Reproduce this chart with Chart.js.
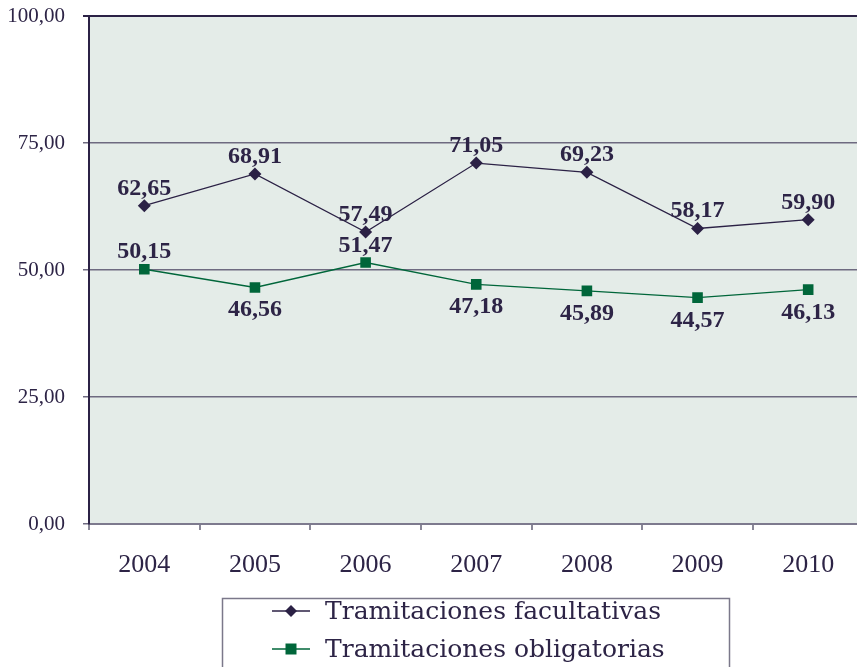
<!DOCTYPE html>
<html>
<head>
<meta charset="utf-8">
<script src="https://cdn.jsdelivr.net/npm/chart.js@4/dist/chart.umd.min.js"></script>
<style>
  html, body { margin: 0; padding: 0; background: #fff; overflow: hidden; }
  /* plot runs a few pixels past the right edge of the page */
  #wrap { width: 857px; height: 667px; overflow: hidden; }
  canvas { display: block; }
</style>
</head>
<body>
<div id="wrap"><canvas id="tramChart" width="871" height="667"></canvas></div>
<script>
// Series
const years = ['2004', '2005', '2006', '2007', '2008', '2009', '2010'];
const facultativas = [62.65, 68.91, 57.49, 71.05, 69.23, 58.17, 59.90];
const obligatorias = [50.15, 46.56, 51.47, 47.18, 45.89, 44.57, 46.13];
const yTicks = [0, 25, 50, 75, 100];

const INK = '#2d2446';
const NAVY = '#2b2145';
const GREEN = '#00663a';
const PLOT_BG = '#e4ece8';
const GRID = '#6e6a80';
const SERIF = '"Liberation Serif", serif';
const WIDE_SERIF = '"DejaVu Serif", serif';

const fmt = (v) => v.toFixed(2).replace('.', ',');

// plot area fill
const plotBackground = {
  id: 'plotBackground',
  beforeDraw(chart) {
    const { ctx, chartArea: a } = chart;
    ctx.save();
    ctx.fillStyle = PLOT_BG;
    ctx.fillRect(a.left, a.top, a.right - a.left, a.bottom - a.top);
    ctx.restore();
  }
};

// value labels next to each point
const valueLabels = {
  id: 'valueLabels',
  afterDatasetsDraw(chart) {
    const ctx = chart.ctx;
    ctx.save();
    ctx.font = 'bold 24px ' + SERIF;
    ctx.fillStyle = INK;
    ctx.textAlign = 'center';
    ctx.textBaseline = 'alphabetic';
    chart.data.datasets.forEach((ds, i) => {
      chart.getDatasetMeta(i).data.forEach((pt, j) => {
        const below = ds.labelSide && ds.labelSide[j] === 'below';
        ctx.fillText(fmt(ds.data[j]), pt.x, below ? pt.y + 29 : pt.y - 11);
      });
    });
    ctx.restore();
  }
};

// boxed legend under the axis
const boxLegend = {
  id: 'boxLegend',
  afterDraw(chart) {
    const ctx = chart.ctx;
    ctx.save();
    ctx.strokeStyle = '#7b788a';
    ctx.lineWidth = 1.5;
    ctx.strokeRect(222.5, 598.5, 507, 90);
    ctx.font = '25px ' + WIDE_SERIF;
    ctx.textAlign = 'left';
    ctx.textBaseline = 'middle';
    chart.data.datasets.forEach((ds, i) => {
      const y = 611 + i * 38;
      ctx.strokeStyle = ds.borderColor;
      ctx.lineWidth = 1.5;
      ctx.beginPath();
      ctx.moveTo(272, y);
      ctx.lineTo(310, y);
      ctx.stroke();
      ctx.fillStyle = ds.pointBackgroundColor;
      ctx.beginPath();
      if (ds.pointStyle === 'rectRot') {
        ctx.moveTo(291, y - 6); ctx.lineTo(297, y); ctx.lineTo(291, y + 6); ctx.lineTo(285, y);
        ctx.closePath();
      } else {
        ctx.rect(285.5, y - 5.5, 11, 11);
      }
      ctx.fill();
      ctx.fillStyle = INK;
      ctx.fillText(ds.label, 325, y + 1);
    });
    ctx.restore();
  }
};

function draw() {
  new Chart(document.getElementById('tramChart'), {
    type: 'line',
    data: {
      labels: years,
      datasets: [
        {
          label: 'Tramitaciones facultativas',
          data: facultativas,
          borderColor: NAVY,
          borderWidth: 1.3,
          pointStyle: 'rectRot',
          pointRadius: 6.5,
          pointBackgroundColor: NAVY,
          pointBorderWidth: 0,
          tension: 0,
          labelSide: ['above', 'above', 'above', 'above', 'above', 'above', 'above']
        },
        {
          label: 'Tramitaciones obligatorias',
          data: obligatorias,
          borderColor: GREEN,
          borderWidth: 1.3,
          pointStyle: 'rect',
          pointRadius: 7.5,
          pointBackgroundColor: GREEN,
          pointBorderWidth: 0,
          tension: 0,
          labelSide: ['above', 'below', 'above', 'below', 'below', 'below', 'below']
        }
      ]
    },
    options: {
      responsive: false,
      devicePixelRatio: 1,
      animation: false,
      layout: { padding: { left: 0, top: 16, right: 0, bottom: 83 } },
      plugins: {
        legend: { display: false },
        tooltip: { enabled: false }
      },
      scales: {
        x: {
          offset: true,
          grid: { offset: true, drawOnChartArea: false, tickLength: 6, color: '#8a8898', lineWidth: 2 },
          border: { color: '#7d7a8e', width: 2 },
          ticks: { color: INK, font: { family: SERIF, size: 26 }, padding: 20 },
          afterFit: (s) => { s.height = 60; s.paddingLeft = 0; s.paddingRight = 0; }
        },
        y: {
          min: 0,
          max: 100,
          afterBuildTicks: (s) => { s.ticks = yTicks.map(v => ({ value: v })); },
          grid: {
            tickLength: 6,
            color: (c) => (c.tick && c.tick.value === 100 ? NAVY : GRID),
            lineWidth: (c) => (c.tick && c.tick.value === 100 ? 2 : 1.5)
          },
          border: { color: NAVY, width: 2 },
          ticks: { color: INK, font: { family: SERIF, size: 21 }, padding: 18, callback: (v) => fmt(v) },
          afterFit: (s) => { s.width = 89; s.paddingTop = 0; s.paddingBottom = 0; }
        }
      }
    },
    plugins: [plotBackground, valueLabels, boxLegend]
  });
}

Promise.all([
  document.fonts.load('21px "Liberation Serif"'),
  document.fonts.load('bold 24px "Liberation Serif"'),
  document.fonts.load('25px "DejaVu Serif"')
]).then(draw, draw);
</script>
</body>
</html>
